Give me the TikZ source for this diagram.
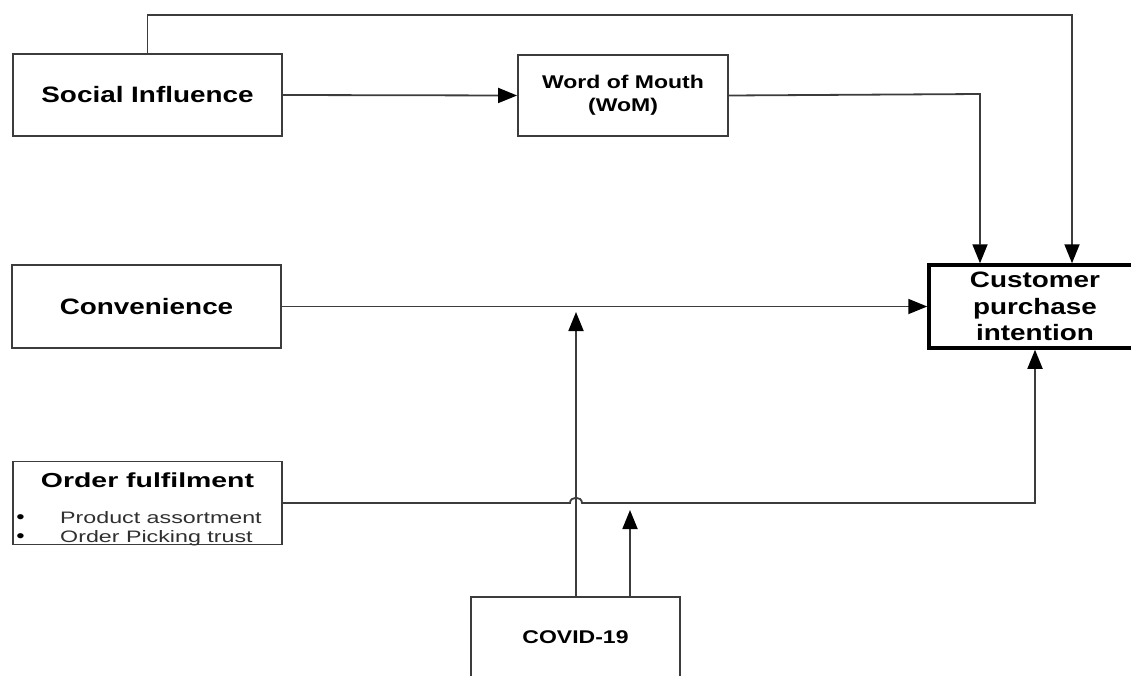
\documentclass[tikz,border=0pt]{standalone}
\usepackage{fontspec}
\setmainfont{Liberation Sans}[FakeStretch=1.25]
\newfontfamily\widefont{Liberation Sans}[FakeStretch=1.4]
\usetikzlibrary{arrows.meta}
\definecolor{ln}{RGB}{60,60,60}
\tikzset{
  box/.style={draw=ln, line width=1.8pt, fill=white, inner sep=0pt, align=center,
    font=\bfseries\fontsize{22.3}{26.5}\selectfont},
  smallbox/.style={box, font=\bfseries\fontsize{18.4}{23}\selectfont},
  conn/.style={draw=ln, line width=1.8pt},
  arr/.style={conn, -{Triangle[length=19pt,width=15pt,color=black,fill=black]}},
  itemtext/.style={inner sep=0pt, font=\widefont\fontsize{16.6}{20}\selectfont, text=ln!80!black},
  bullettext/.style={inner sep=0pt, font=\fontsize{19}{20}\selectfont},
}
\begin{document}
\begin{tikzpicture}[x=1pt,y=-1pt]
\useasboundingbox (0,0) rectangle (1131,675);
% boxes
\node[box, minimum width=269, minimum height=82] (si) at (147.5,95) {Social Influence};
\node[smallbox, minimum width=210, minimum height=81] (wom) at (623,95.5) {Word of Mouth\\(WoM)};
\node[box, minimum width=269, minimum height=83] (conv) at (146.5,306.5) {Convenience};
\node[box, draw=black, line width=3.5pt, minimum width=212, minimum height=83] (cpi) at (1035,306.5) {Customer\\purchase\\intention};
\node[box, minimum width=269, minimum height=83] (of) at (147.5,503) {};
\node[smallbox, minimum width=209, minimum height=80] (covid) at (575.5,637) {COVID-19};
% order fulfilment contents
\node[inner sep=0pt, anchor=base, font=\widefont\bfseries\fontsize{20.3}{24}\selectfont] (oft) at (147.5,487) {Order fulfilment};
\node[bullettext, anchor=base] (b1) at (20.5,523) {•};
\node[itemtext, anchor=base west] (i1) at (60,523) {Product assortment};
\node[bullettext, anchor=base] (b2) at (20.5,542) {•};
\node[itemtext, anchor=base west] (i2) at (60,542) {Order Picking trust};
% coordinates
\coordinate (tr) at (1072,15);
\coordinate (wr) at (980,94);
\coordinate (hopL) at (570,503);
\coordinate (hopR) at (582,503);
\coordinate (c1) at (576,312);
\coordinate (c2) at (630,510);
% connectors
\draw[arr] (si.north) |- (tr) -- (tr |- cpi.north);
\draw[arr] (si.east) -- (wom.west);
\draw[arr] (wom.east) -- (wr) -- (wr |- cpi.north);
\draw[arr] (conv.east) -- (cpi.west);
\draw[arr] (of.east) -- (hopL) .. controls +(0,-7) and +(0,-7) .. (hopR) -| (cpi.south);
\draw[arr] (covid.north -| c1) -- (c1);
\draw[arr] (covid.north -| c2) -- (c2);
\end{tikzpicture}
\end{document}
